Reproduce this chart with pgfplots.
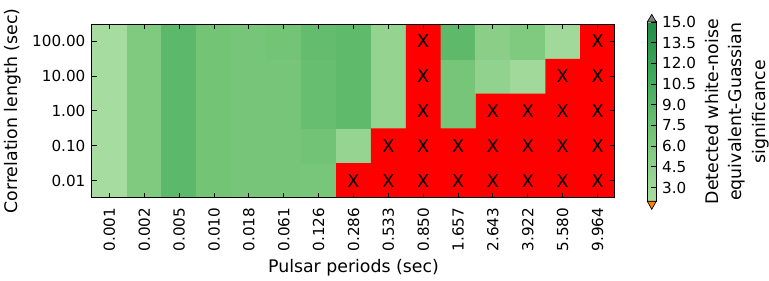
\documentclass[border=0pt]{standalone}
\usepackage{fontspec}
\setmainfont{DejaVu Sans}
\usepackage{pgfplots}
\pgfplotsset{compat=1.18}
\usepackage{pgfplotstable}
\newcommand\ticksize{\fontsize{11.4}{13.7}\selectfont}
\newcommand\xsize{\fontsize{13.2}{15}\selectfont}
\newcommand\labelsize{\fontsize{13}{17.6}\selectfont}
\pgfplotsset{colormap={mygreens}{rgb255(0pt)=(168,220,162) rgb255(10pt)=(161,217,155) rgb255(60pt)=(116,196,118) rgb255(110pt)=(65,171,93) rgb255(160pt)=(35,139,69)}}
\pgfplotstableread{
x y v
0 0 2.1
1 0 5.8
2 0 8.8
3 0 6.9
4 0 6.6
5 0 6.6
6 0 6.5
7 0 2
8 0 2
9 0 2
10 0 2
11 0 2
12 0 2
13 0 2
14 0 2
0 1 2.1
1 1 5.8
2 1 8.8
3 1 6.9
4 1 6.6
5 1 6.7
6 1 7.0
7 1 3.8
8 1 2
9 1 2
10 1 2
11 1 2
12 1 2
13 1 2
14 1 2
0 2 2.1
1 2 5.8
2 2 8.8
3 2 6.9
4 2 6.6
5 2 6.7
6 2 7.8
7 2 8.55
8 2 4.0
9 2 2
10 2 6.7
11 2 2
12 2 2
13 2 2
14 2 2
0 3 2.1
1 3 5.8
2 3 8.8
3 3 6.9
4 3 6.6
5 3 6.7
6 3 7.8
7 3 8.55
8 3 4.0
9 3 2
10 3 6.7
11 3 4.25
12 3 2.9
13 3 2
14 3 2
0 4 2.1
1 4 5.8
2 4 8.8
3 4 6.9
4 4 6.6
5 4 6.9
6 4 8.15
7 4 8.55
8 4 4.0
9 4 2
10 4 8.6
11 4 4.9
12 4 5.8
13 4 2.9
14 4 2
}\cells
\begin{document}
\begin{tikzpicture}
\path[use as bounding box] (0,0) rectangle (576.75pt,210.75pt);
\begin{axis}[
  at={(69pt,62.25pt)}, anchor=south west,
  scale only axis, width=392.25pt, height=130.5pt,
  xmin=-0.5, xmax=14.5, ymin=-0.5, ymax=4.5,
  enlargelimits=false, axis on top,
  xtick={0,...,14},
  xticklabels={0.001,0.002,0.005,0.010,0.018,0.061,0.126,0.286,0.533,0.850,1.657,2.643,3.922,5.580,9.964},
  ytick={0,...,4},
  yticklabels={0.01,0.10,1.00,10.00,100.00},
  xtick pos=both, ytick pos=both,
  xticklabel pos=left, yticklabel pos=left,
  tick align=inside, major tick length=3.75pt,
  tick style={black, line width=0.75pt},
  axis line style={black, line width=0.75pt},
  xticklabel style={rotate=90, anchor=east, font=\ticksize},
  yticklabel style={font=\ticksize},
  xticklabel shift=3.9pt, yticklabel shift=1.45pt,
  xlabel={Pulsar periods (sec)},
  ylabel={Correlation length (sec)},
  xlabel style={font=\labelsize, at={(axis description cs:0.5,-0.3996)}, anchor=center},
  ylabel style={font=\labelsize, at={(axis description cs:-0.152,0.5)}, anchor=center},
  colormap name=mygreens,
  point meta min=2, point meta max=15,
  colorbar right,
  colorbar shift/.style={},
  colorbar style={
    at={(parent axis.south east)}, anchor=south west, xshift=24.2pt, yshift=-2.5pt,
    scale only axis, width=6.75pt, height=134.5pt,
    ytick={3,4.5,...,15},
    yticklabel={\pgfmathprintnumber[fixed,fixed zerofill,precision=1,assume math mode=true]{\tick}},
    yticklabel style={font=\ticksize},
    ytick pos=right, yticklabel pos=right,
    tick align=inside, major tick length=3.75pt,
    tick style={black, line width=0.6pt},
    axis line style={black, line width=0.75pt},
    yticklabel shift=0.9pt,
    ylabel={Detected white-noise\\equivalent-Guassian\\significance},
    ylabel style={font=\labelsize, align=center, at={(axis description cs:9.97,0.5)}, anchor=center},
  },
]
\addplot[matrix plot*, mesh/cols=15, point meta=explicit] table[x=x, y=y, meta=v] {\cells};
\addplot[fill=red, draw=none] coordinates {(6.5,-0.5) (6.5,0.5) (7.5,0.5) (7.5,1.5) (8.5,1.5) (8.5,4.5) (9.5,4.5) (9.5,1.5) (10.5,1.5) (10.5,2.5) (12.5,2.5) (12.5,3.5) (13.5,3.5) (13.5,4.5) (14.5,4.5) (14.5,-0.5) (6.5,-0.5)};
\addplot[draw=none, mark=none, nodes near coords={X}, nodes near coords align={center},
  every node near coord/.append style={anchor=center, font=\xsize, text=black}]
  coordinates {(7,0) (8,0) (9,0) (10,0) (11,0) (12,0) (13,0) (14,0)
               (8,1) (9,1) (10,1) (11,1) (12,1) (13,1) (14,1)
               (9,2) (11,2) (12,2) (13,2) (14,2)
               (9,3) (13,3) (14,3)
               (9,4) (14,4)};
\end{axis}
\begin{axis}[
  at={(485.45pt,59.75pt)}, anchor=south west,
  scale only axis, width=6.75pt, height=134.5pt,
  xmin=0, xmax=1, ymin=2, ymax=15,
  hide axis, clip=false,
]
\addplot[fill=gray, draw=black, line width=0.5pt] coordinates {(0,15) (1,15) (0.5,15.55) (0,15)};
\addplot[fill=orange, draw=black, line width=0.5pt] coordinates {(0,2) (1,2) (0.5,1.42) (0,2)};
\end{axis}
\end{tikzpicture}
\end{document}
